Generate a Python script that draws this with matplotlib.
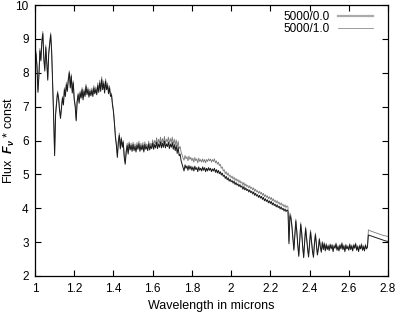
import numpy as np
import matplotlib
matplotlib.use("Agg")
import matplotlib.pyplot as plt
from matplotlib.lines import Line2D

plt.rcParams['font.family'] = ['Liberation Sans', 'DejaVu Sans']
plt.rcParams['mathtext.fontset'] = 'custom'
plt.rcParams['mathtext.it'] = 'Liberation Sans:bold:italic'
plt.rcParams['mathtext.rm'] = 'Liberation Sans'

# wavelength range (microns)
wl_start, wl_end = 1.0, 2.8

flux_50_00 = [
    8.70, 8.55, 8.20, 7.42, 7.90, 8.65, 8.35, 8.90, 9.15, 8.40,
    8.05, 8.75, 8.30, 7.78, 8.55, 8.85, 9.12, 8.60, 7.70, 6.70,
    5.55, 6.75, 7.10, 7.40, 7.25, 6.90, 6.65, 6.95, 7.25, 7.05,
    7.50, 7.30, 7.65, 7.45, 7.80, 8.00, 7.55, 7.90, 7.40, 7.70,
    7.20, 7.00, 6.58, 7.15, 7.35, 7.10, 7.40, 7.25, 7.50, 7.20,
    7.45, 7.30, 7.60, 7.35, 7.50, 7.28, 7.45, 7.32, 7.48, 7.30,
    7.55, 7.38, 7.50, 7.35, 7.62, 7.42, 7.70, 7.45, 7.80, 7.50,
    7.68, 7.40, 7.75, 7.50, 7.62, 7.38, 7.55, 7.30, 7.35, 7.05,
    6.85, 6.50, 6.10, 5.85, 5.50, 5.95, 6.15, 5.75, 6.05, 5.80,
    5.95, 5.50, 5.30, 5.65, 5.85, 5.60, 5.90, 5.72, 5.85, 5.68,
    5.88, 5.70, 5.82, 5.66, 5.86, 5.74, 5.90, 5.68, 5.84, 5.72,
    5.86, 5.66, 5.88, 5.74, 5.82, 5.70, 5.90, 5.72, 5.84, 5.76,
    5.92, 5.74, 5.88, 5.78, 5.95, 5.76, 5.90, 5.80, 5.96, 5.78,
    5.92, 5.80, 5.98, 5.78, 5.90, 5.82, 5.95, 5.76, 5.90, 5.80,
    5.94, 5.74, 5.88, 5.70, 5.85, 5.62, 5.80, 5.55, 5.60, 5.40,
    5.30, 5.20, 5.10, 5.28, 5.18, 5.25, 5.12, 5.26, 5.15, 5.24,
    5.12, 5.22, 5.10, 5.24, 5.14, 5.20, 5.08, 5.22, 5.12, 5.18,
    5.10, 5.22, 5.12, 5.20, 5.08, 5.18, 5.10, 5.20, 5.12, 5.18,
    5.08, 5.16, 5.10, 5.18, 5.06, 5.14, 5.04, 5.12, 5.02, 5.08,
    4.98, 5.04, 4.94, 4.98, 4.88, 4.94, 4.84, 4.90, 4.80, 4.86,
    4.78, 4.82, 4.74, 4.80, 4.70, 4.76, 4.68, 4.72, 4.64, 4.70,
    4.62, 4.66, 4.56, 4.64, 4.54, 4.60, 4.52, 4.56, 4.48, 4.54,
    4.46, 4.50, 4.42, 4.48, 4.38, 4.44, 4.36, 4.40, 4.32, 4.38,
    4.30, 4.35, 4.26, 4.32, 4.22, 4.28, 4.20, 4.25, 4.16, 4.22,
    4.14, 4.20, 4.10, 4.16, 4.08, 4.12, 4.04, 4.10, 4.02, 4.06,
    3.98, 4.04, 3.96, 4.00, 3.92, 3.98, 3.90, 3.95, 3.92, 2.95,
    3.78, 3.70, 3.45, 3.10, 2.76, 3.20, 3.62, 3.30, 2.90, 2.58,
    3.05, 3.52, 3.25, 2.85, 2.54, 3.00, 3.40, 3.10, 2.80, 2.56,
    2.95, 3.30, 3.00, 2.72, 2.55, 2.95, 3.22, 2.90, 2.62, 2.80,
    3.08, 2.85, 2.70, 2.98, 2.78, 2.95, 2.74, 2.92, 2.78, 2.88,
    2.75, 2.92, 2.80, 2.90, 2.72, 2.88, 2.82, 2.94, 2.76, 2.86,
    2.74, 2.90, 2.80, 2.95, 2.78, 2.88, 2.72, 2.90, 2.80, 2.86,
    2.76, 2.92, 2.78, 2.88, 2.74, 2.90, 2.82, 2.94, 2.76, 2.86,
    2.72, 2.88, 2.80, 2.92, 2.76, 2.86, 2.74, 2.90, 2.80, 2.84,
    3.21, 3.20, 3.19, 3.18, 3.17, 3.16, 3.15, 3.14, 3.13, 3.12,
    3.11, 3.10, 3.09, 3.08, 3.07, 3.06, 3.05, 3.04, 3.03, 3.03,
    3.02,
]

flux_50_10 = [
    8.75, 8.62, 8.26, 7.48, 7.98, 8.72, 8.40, 8.98, 9.22, 8.46,
    8.12, 8.82, 8.36, 7.84, 8.62, 8.92, 9.18, 8.66, 7.76, 6.76,
    5.60, 6.80, 7.16, 7.46, 7.30, 6.96, 6.70, 7.00, 7.30, 7.12,
    7.56, 7.36, 7.72, 7.50, 7.86, 8.06, 7.60, 7.96, 7.46, 7.76,
    7.26, 7.05, 6.62, 7.20, 7.40, 7.16, 7.46, 7.30, 7.56, 7.26,
    7.52, 7.36, 7.66, 7.40, 7.56, 7.34, 7.52, 7.38, 7.55, 7.36,
    7.62, 7.44, 7.58, 7.42, 7.70, 7.50, 7.78, 7.52, 7.88, 7.58,
    7.76, 7.48, 7.82, 7.56, 7.70, 7.44, 7.62, 7.36, 7.40, 7.10,
    6.90, 6.55, 6.16, 5.90, 5.55, 6.00, 6.22, 5.80, 6.10, 5.86,
    6.00, 5.56, 5.35, 5.70, 5.92, 5.66, 5.96, 5.78, 5.92, 5.74,
    5.95, 5.76, 5.90, 5.72, 5.94, 5.80, 5.98, 5.75, 5.92, 5.78,
    5.94, 5.72, 5.96, 5.80, 5.90, 5.78, 5.98, 5.80, 5.92, 5.84,
    6.02, 5.84, 6.00, 5.90, 6.08, 5.88, 6.04, 5.92, 6.10, 5.90,
    6.06, 5.92, 6.12, 5.90, 6.04, 5.96, 6.10, 5.90, 6.06, 5.94,
    6.10, 5.88, 6.04, 5.86, 6.02, 5.80, 5.98, 5.76, 5.82, 5.66,
    5.58, 5.48, 5.42, 5.56, 5.46, 5.52, 5.40, 5.54, 5.44, 5.50,
    5.40, 5.48, 5.36, 5.50, 5.40, 5.46, 5.34, 5.48, 5.38, 5.44,
    5.36, 5.46, 5.36, 5.44, 5.34, 5.44, 5.38, 5.46, 5.40, 5.45,
    5.36, 5.44, 5.38, 5.46, 5.34, 5.40, 5.30, 5.36, 5.26, 5.30,
    5.18, 5.22, 5.10, 5.14, 5.02, 5.08, 4.98, 5.04, 4.94, 4.98,
    4.90, 4.95, 4.86, 4.92, 4.82, 4.88, 4.80, 4.85, 4.76, 4.82,
    4.74, 4.78, 4.68, 4.76, 4.66, 4.72, 4.64, 4.68, 4.60, 4.66,
    4.58, 4.62, 4.54, 4.60, 4.50, 4.56, 4.48, 4.52, 4.44, 4.50,
    4.42, 4.47, 4.38, 4.44, 4.34, 4.40, 4.32, 4.37, 4.28, 4.34,
    4.26, 4.32, 4.22, 4.28, 4.20, 4.24, 4.16, 4.22, 4.14, 4.18,
    4.10, 4.16, 4.08, 4.12, 4.04, 4.10, 4.02, 4.07, 4.04, 3.02,
    3.86, 3.78, 3.52, 3.16, 2.80, 3.26, 3.68, 3.36, 2.95, 2.62,
    3.10, 3.58, 3.30, 2.90, 2.58, 3.05, 3.45, 3.15, 2.85, 2.60,
    3.00, 3.36, 3.05, 2.76, 2.59, 3.00, 3.27, 2.95, 2.66, 2.84,
    3.12, 2.89, 2.74, 3.02, 2.82, 2.99, 2.78, 2.96, 2.82, 2.92,
    2.79, 2.95, 2.84, 2.94, 2.76, 2.92, 2.86, 2.98, 2.80, 2.90,
    2.78, 2.94, 2.84, 2.99, 2.82, 2.92, 2.76, 2.94, 2.84, 2.90,
    2.80, 2.96, 2.82, 2.92, 2.78, 2.94, 2.86, 2.98, 2.80, 2.90,
    2.76, 2.92, 2.84, 2.96, 2.80, 2.90, 2.78, 2.94, 2.84, 2.88,
    3.36, 3.35, 3.33, 3.32, 3.31, 3.30, 3.29, 3.28, 3.27, 3.26,
    3.25, 3.24, 3.23, 3.22, 3.21, 3.20, 3.19, 3.19, 3.18, 3.17,
    3.17,
]

series_labels = ["5000/0.0", "5000/1.0"]
x_ticks = [1.0, 1.2, 1.4, 1.6, 1.8, 2.0, 2.2, 2.4, 2.6, 2.8]
x_ticklabels = ["1", "1.2", "1.4", "1.6", "1.8", "2", "2.2", "2.4", "2.6", "2.8"]
y_ticks = [2, 3, 4, 5, 6, 7, 8, 9, 10]

wl_a = np.linspace(wl_start, wl_end, len(flux_50_00))
wl_b = np.linspace(wl_start, wl_end, len(flux_50_10))

W, H = 396, 315
fig = plt.figure(figsize=(W / 100, H / 100), dpi=100)
ax = fig.add_axes([35 / W, 39 / H, 353 / W, 271 / H])

ax.plot(wl_b, flux_50_10, color='#7a7a7a', lw=0.6)
ax.plot(wl_a, flux_50_00, color='#1a1a1a', lw=0.7)

ax.set_xlim(1.0, 2.8)
ax.set_ylim(2, 10)
ax.set_xticks(x_ticks)
ax.set_xticklabels(x_ticklabels)
ax.set_yticks(y_ticks)
ax.tick_params(direction='in', length=4.5, width=0.8, top=True, right=True,
               labelsize=8.5, colors='black')
ax.tick_params(axis='x', pad=5)
ax.tick_params(axis='y', pad=4.5)
for s in ax.spines.values():
    s.set_linewidth(0.9)

ax.set_xlabel("Wavelength in microns", fontsize=9, labelpad=4)
ax.set_ylabel(r"Flux  $F_{\nu}$ * const", fontsize=9)
ax.yaxis.set_label_coords((17 - 35) / 353, 0.5)

handles = [Line2D([], [], color='#aaaaaa', lw=1.6),
           Line2D([], [], color='#8c8c8c', lw=0.6)]
ax.legend(handles, series_labels, loc='upper right',
          bbox_to_anchor=((373 - 35) / 353, (276 - 11) / 271),
          frameon=False, markerfirst=False, fontsize=8.5,
          handlelength=3.0, handletextpad=0.7, labelspacing=0.0,
          borderpad=0, borderaxespad=0)

fig.savefig("out.png", dpi=100)
